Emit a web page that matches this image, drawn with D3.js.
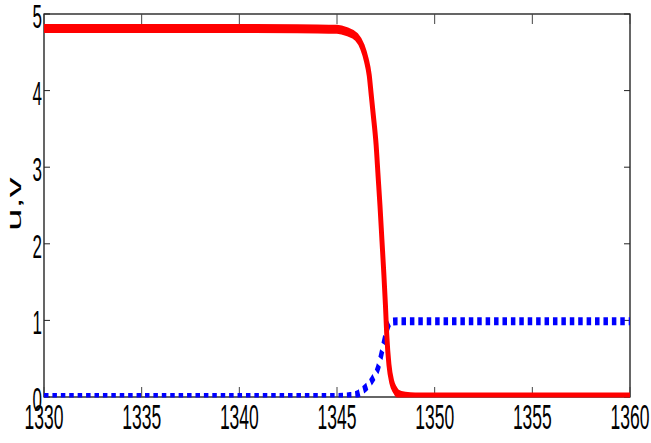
<!DOCTYPE html>
<html>
<head>
<meta charset="utf-8"/>
<script src="https://cdn.jsdelivr.net/npm/d3@7"></script>
<style>
	body { margin: 0; background: #fff; }
	text { font-family: 'Liberation Sans', Arial, sans-serif; fill: #000; }
</style>
</head>
<body>
<svg id="chart" width="651" height="443"></svg>
<script>
// u (red, solid) and v (blue, dotted)
var uX = [1330, 1340, 1344, 1345, 1345.5, 1346, 1346.3, 1346.5, 1346.65, 1346.75, 1346.85, 1347.0, 1347.1, 1347.2, 1347.3, 1347.4, 1347.48, 1347.55, 1347.66, 1347.8, 1347.95, 1348.12, 1348.5, 1349, 1360];
var uY = [4.81, 4.81, 4.805, 4.80, 4.77, 4.70, 4.57, 4.40, 4.20, 3.95, 3.70, 3.30, 2.90, 2.50, 2.05, 1.60, 1.20, 0.80, 0.42, 0.20, 0.10, 0.04, 0.01, 0, 0];
var vX = [1330, 1345, 1345.6, 1346, 1346.33, 1346.79, 1347.1, 1347.3, 1347.46, 1347.62, 1347.75, 1348.1, 1360];
var vY = [0, 0, 0.01, 0.03, 0.09, 0.22, 0.38, 0.59, 0.78, 0.93, 0.98, 0.99, 0.99];
var xTicks = [1330, 1335, 1340, 1345, 1350, 1355, 1360];
var yTicks = [0, 1, 2, 3, 4, 5];
var yLabel = "u,v";

var svg = d3.select('#chart');
var m = {left: 44, right: 630, top: 14, bottom: 397};
var sx = 0.55; // figure looks squashed horizontally
var tsx = 0.5; // same for text

var x = d3.scaleLinear().domain([1330, 1360]).range([m.left, m.right]);
var y = d3.scaleLinear().domain([0, 5]).range([m.bottom, m.top]);
// x scale for the squashed group
var xs = d3.scaleLinear().domain(x.domain()).range([m.left / sx, m.right / sx]);

// axes box
var ax = svg.append('g');
ax.append('rect')
	.attr('x', m.left).attr('y', m.top)
	.attr('width', m.right - m.left).attr('height', m.bottom - m.top)
	.attr('fill', 'none').attr('stroke', '#000').attr('stroke-width', 1.2);

xTicks.forEach(function(t) {
	ax.append('line').attr('x1', x(t)).attr('x2', x(t)).attr('y1', m.bottom).attr('y2', m.bottom - 10)
		.attr('stroke', '#444').attr('stroke-width', 1);
	ax.append('line').attr('x1', x(t)).attr('x2', x(t)).attr('y1', m.top).attr('y2', m.top + 10)
		.attr('stroke', '#444').attr('stroke-width', 1);
	ax.append('text')
		.attr('transform', 'translate(' + x(t) + ',' + 429 + ') scale(' + tsx + ',1)')
		.attr('text-anchor', 'middle')
		.style('font-size', '35px')
		.text(t);
});
yTicks.forEach(function(t) {
	ax.append('line').attr('x1', m.left).attr('x2', m.left + 6).attr('y1', y(t)).attr('y2', y(t))
		.attr('stroke', '#222').attr('stroke-width', 1);
	ax.append('line').attr('x1', m.right).attr('x2', m.right - 6).attr('y1', y(t)).attr('y2', y(t))
		.attr('stroke', '#222').attr('stroke-width', 1);
	ax.append('text')
		.attr('transform', 'translate(' + 42 + ',' + (y(t) + 14) + ') scale(' + tsx + ',1)')
		.attr('text-anchor', 'end')
		.style('font-size', '34px')
		.text(t);
});
svg.append('text')
	.attr('transform', 'translate(21,204) scale(' + tsx + ',1) rotate(-90)')
	.attr('text-anchor', 'middle')
	.style('font-size', '40px')
	.text(yLabel);

// data, clipped to the axes
svg.append('clipPath').attr('id', 'clip')
	.append('rect')
	.attr('x', m.left).attr('y', m.top)
	.attr('width', m.right - m.left).attr('height', m.bottom - m.top + 0.5);

var plot = svg.append('g').attr('clip-path', 'url(#clip)')
	.append('g').attr('transform', 'scale(' + sx + ',1)');

var line = d3.line().curve(d3.curveMonotoneX)
	.x(function(d) { return xs(d[0]); })
	.y(function(d) { return y(d[1]); });

plot.append('path')
	.attr('d', line(d3.zip(vX, vY)))
	.attr('fill', 'none')
	.attr('stroke', '#0000ff')
	.attr('stroke-width', 8)
	.attr('stroke-dasharray', '8.2,7.1');

plot.append('path')
	.attr('d', line(d3.zip(uX, uY)))
	.attr('fill', 'none')
	.attr('stroke', '#ff0000')
	.attr('stroke-width', 9)
	.attr('stroke-linejoin', 'round');
</script>
</body>
</html>
